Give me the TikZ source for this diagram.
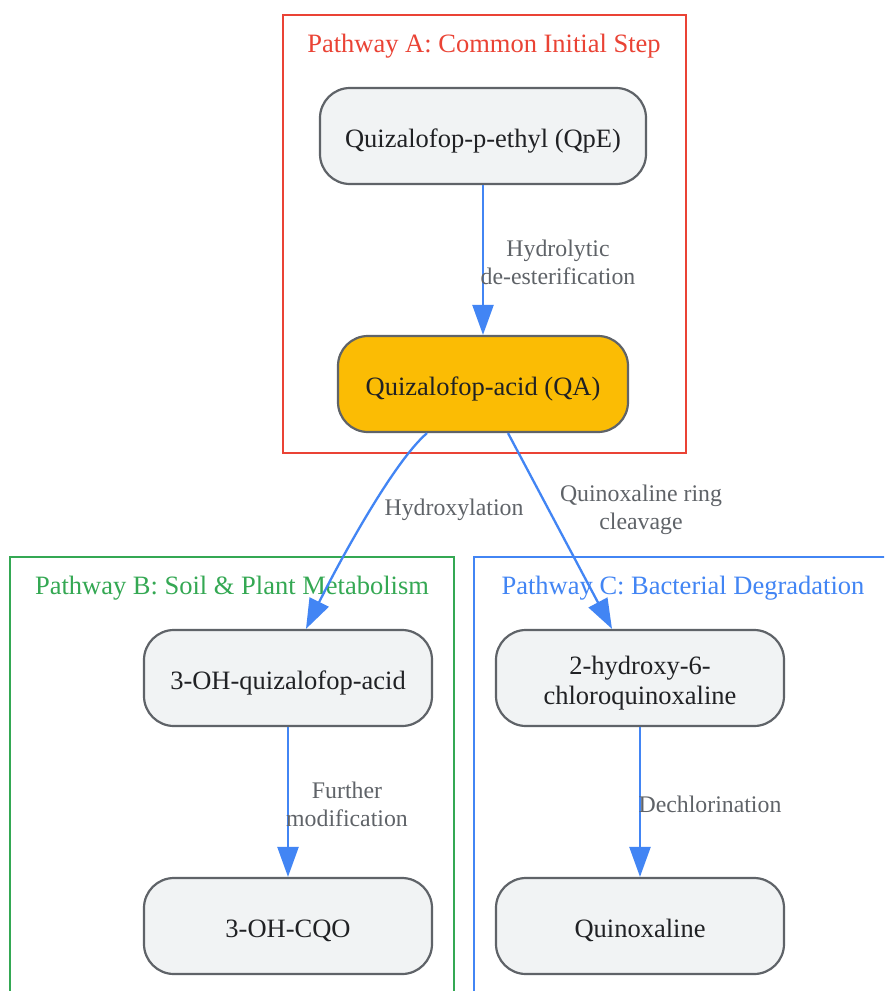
\documentclass[tikz,border=0pt]{standalone}
\usepackage{fontspec}
\setmainfont{Liberation Serif}
\usetikzlibrary{arrows.meta,calc}
\definecolor{cred}{HTML}{EA4335}
\definecolor{cgreen}{HTML}{34A853}
\definecolor{cblue}{HTML}{4285F4}
\definecolor{cgray}{HTML}{5F6368}
\definecolor{ctext}{HTML}{202124}
\definecolor{cfill}{HTML}{F1F3F4}
\definecolor{cyellow}{HTML}{FBBC04}
\tikzset{
  stepbox/.style={draw=cgray, line width=2.2pt, fill=cfill, rounded corners=30pt,
    minimum width=288pt, minimum height=96pt, align=center, text=ctext,
    inner sep=0pt, text height=26pt, text depth=4pt,
    font=\fontsize{26.5}{30}\selectfont},
  elabel/.style={text=cgray, align=center, inner sep=0pt, font=\fontsize{23.8}{28}\selectfont},
  ctitle/.style={inner sep=0pt, font=\fontsize{26.5}{28}\selectfont},
  cluster/.style={line width=2.2pt},
  flow/.style={draw=cblue, line width=2.3pt, -{Triangle[length=30pt,width=21pt]}}
}
\begin{document}
\begin{tikzpicture}[x=1pt,y=-1pt]
\useasboundingbox (0,0) rectangle (884,991);
\clip (0,0) rectangle (884,991);
\fill[white] (0,0) rectangle (884,991);
% clusters
\draw[cluster, draw=cred] (283,15) rectangle (686,453);
\draw[cluster, draw=cgreen] (10,557) rectangle (454,1010);
\draw[cluster, draw=cblue] (474,557) rectangle (900,1010);
\node[ctitle, text=cred] (ta) at (484,46) {Pathway A: Common Initial Step};
\node[ctitle, text=cgreen] (tb) at (232,588) {Pathway B: Soil \& Plant Metabolism};
\node[ctitle, text=cblue] (tc) at (683,588) {Pathway C: Bacterial Degradation};
% nodes
\node[stepbox, minimum width=326pt] (qpe) at (483,136) {Quizalofop-p-ethyl (QpE)};
\node[stepbox, fill=cyellow, minimum width=290pt] (qa) at (483,384) {Quizalofop-acid (QA)};
\node[stepbox] (ohqa) at (288,678) {3-OH-quizalofop-acid};
\node[stepbox] (ohcqo) at (288,926) {3-OH-CQO};
\node[stepbox, text height=56pt, text depth=4pt] (hx) at (640,678) {2-hydroxy-6-\\chloroquinoxaline};
\node[stepbox] (qx) at (640,926) {Quinoxaline};
% edges
\draw[flow] (qpe) -- (qa);
\draw[flow] ([xshift=-56pt]qa.south) .. controls (390,465) and (330,580) .. ([xshift=18pt]ohqa.north);
\draw[flow] ([xshift=25pt]qa.south) -- ([xshift=-28pt]hx.north);
\draw[flow] (ohqa) -- (ohcqo);
\draw[flow] (hx) -- (qx);
% edge labels
\node[elabel] (l1) at (558,262) {Hydrolytic\\de-esterification};
\node[elabel] (l2) at (454,510) {Hydroxylation};
\node[elabel] (l3) at (641,510) {Quinoxaline ring\\cleavage};
\node[elabel] (l4) at (347,804) {Further\\modification};
\node[elabel] (l5) at (710,804) {Dechlorination};
\end{tikzpicture}
\end{document}
